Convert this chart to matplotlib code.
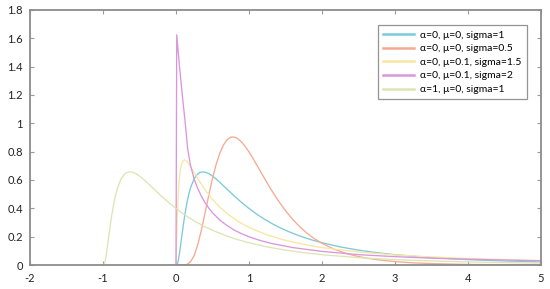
import matplotlib
matplotlib.use("Agg")
import matplotlib.pyplot as plt

plt.rcParams['font.family'] = ['Lato', 'DejaVu Sans']

labels = ["α=0, μ=0, sigma=1", "α=0, μ=0, sigma=0.5", "α=0, μ=0.1, sigma=1.5",
          "α=0, μ=0.1, sigma=2", "α=1, μ=0, sigma=1"]

# series 1: alpha=0, mu=0, sigma=1
x1 = [0.0, 0.02, 0.03, 0.05, 0.08, 0.1, 0.12, 0.15, 0.175, 0.2, 0.25, 0.3, 0.33, 0.37, 0.4,
      0.45, 0.5, 0.55, 0.6, 0.7, 0.8, 0.9, 1.0, 1.1, 1.2, 1.3, 1.4, 1.55, 1.7, 1.85, 2.0,
      2.25, 2.5, 2.75, 3.0, 3.5, 4.0, 4.5, 5.0]
y1 = [0.0, 0.0095, 0.0285, 0.09, 0.2055, 0.282, 0.351, 0.44, 0.499, 0.546, 0.6105, 0.644,
      0.654, 0.657, 0.655, 0.645, 0.628, 0.607, 0.584, 0.535, 0.486, 0.441, 0.399, 0.361,
      0.327, 0.2965, 0.269, 0.234, 0.204, 0.1785, 0.157, 0.1276, 0.105, 0.087, 0.0727,
      0.052, 0.038, 0.0286, 0.0218]

# series 2: alpha=0, mu=0, sigma=0.5
x2 = [0.0, 0.1, 0.15, 0.2, 0.25, 0.3, 0.35, 0.4, 0.45, 0.5, 0.55, 0.6, 0.65, 0.7, 0.75, 0.78,
      0.82, 0.85, 0.9, 0.95, 1.0, 1.05, 1.1, 1.2, 1.3, 1.4, 1.5, 1.6, 1.7, 1.8, 1.9, 2.0, 2.15,
      2.3, 2.45, 2.6, 2.8, 3.0, 3.25, 3.5, 4.0, 5.0]
y2 = [0.0, 0.0, 0.004, 0.023, 0.068, 0.147, 0.252, 0.372, 0.4955, 0.611, 0.710, 0.789, 0.847,
      0.884, 0.9017, 0.904, 0.8995, 0.8906, 0.867, 0.8357, 0.798, 0.7564, 0.712, 0.622, 0.535,
      0.455, 0.383, 0.321, 0.2673, 0.222, 0.1843, 0.153, 0.115, 0.087, 0.0654, 0.049, 0.0342,
      0.024, 0.0152, 0.010, 0.004, 0.001]

# series 3: alpha=0, mu=0.1, sigma=1.5
x3 = [0.0, 0.005, 0.01, 0.02, 0.03, 0.04, 0.05, 0.06, 0.07, 0.08, 0.1, 0.115, 0.13, 0.15,
      0.2, 0.25, 0.3, 0.4, 0.5, 0.6, 0.7, 0.85, 1.0, 1.25, 1.5, 1.75, 2.0, 2.5, 3.0, 3.5,
      4.0, 4.5, 5.0]
y3 = [0.0, 0.082, 0.194, 0.372, 0.492, 0.575, 0.6325, 0.673, 0.700, 0.719, 0.7374, 0.741,
      0.7395, 0.731, 0.695, 0.6514, 0.608, 0.529, 0.463, 0.408, 0.363, 0.308, 0.265, 0.212,
      0.174, 0.145, 0.123, 0.092, 0.071, 0.057, 0.046, 0.038, 0.032]

# series 4: alpha=0, mu=0.1, sigma=2
x4 = [0.0, 0.01, 0.05, 0.09, 0.123, 0.16, 0.2, 0.25, 0.3, 0.35, 0.4, 0.45, 0.5, 0.6, 0.7,
      0.8, 0.9, 1.0, 1.15, 1.3, 1.6, 2.0, 2.5, 3.0, 3.5, 4.0, 4.5, 5.0]
y4 = [0.0, 1.625, 1.39, 1.18, 1.02, 0.82, 0.70, 0.605, 0.538, 0.483, 0.438, 0.401, 0.369,
      0.317, 0.278, 0.246, 0.2205, 0.199, 0.1735, 0.153, 0.123, 0.096, 0.073, 0.059, 0.048,
      0.041, 0.035, 0.030]

# series 5: alpha=1, mu=0, sigma=1
x5 = [-1.0, -0.98, -0.97, -0.95, -0.92, -0.9, -0.88, -0.85, -0.825, -0.8, -0.75, -0.7, -0.67,
      -0.63, -0.6, -0.55, -0.5, -0.45, -0.4, -0.3, -0.2, -0.1, 0.0, 0.1, 0.2, 0.3, 0.4, 0.55,
      0.7, 0.85, 1.0, 1.25, 1.5, 1.75, 2.0, 2.5, 3.0, 3.5, 4.0, 4.5, 5.0]
y5 = [0.0, 0.0095, 0.0285, 0.09, 0.2055, 0.282, 0.351, 0.44, 0.499, 0.546, 0.6105, 0.644,
      0.654, 0.657, 0.655, 0.645, 0.628, 0.607, 0.584, 0.535, 0.486, 0.441, 0.399, 0.361,
      0.327, 0.2965, 0.269, 0.234, 0.204, 0.1785, 0.157, 0.1276, 0.105, 0.087, 0.0727,
      0.052, 0.038, 0.0286, 0.0218, 0.0170, 0.0134]

colors = ["#7ccadb", "#f5ab92", "#f8e6a2", "#da96dd", "#dde5b4"]

xticks = [-2, -1, 0, 1, 2, 3, 4, 5]
yticks = [0, 0.2, 0.4, 0.6, 0.8, 1, 1.2, 1.4, 1.6, 1.8]
ytick_labels = ["0", "0.2", "0.4", "0.6", "0.8", "1", "1.2", "1.4", "1.6", "1.8"]

fig = plt.figure(figsize=(5.5, 2.89), dpi=100)
ax = fig.add_axes([30/550, 1-265/289, (541-30)/550, (265-10)/289])

series = [(x1, y1), (x2, y2), (x3, y3), (x4, y4), (x5, y5)]
for (xs, ys), c, lab in zip(series, colors, labels):
    ax.plot(xs, ys, color=c, lw=0.95, label=lab, solid_joinstyle='round')

ax.set_xlim(-2, 5)
ax.set_ylim(0, 1.8)
ax.set_xticks(xticks)
ax.set_xticklabels([str(t) for t in xticks])
ax.set_yticks(yticks)
ax.set_yticklabels(ytick_labels)

for s in ax.spines.values():
    s.set_color("#8c8c8c")
    s.set_linewidth(1.3)
ax.tick_params(direction='in', length=3, width=0.8, color="#9a9a9a",
               top=True, right=True, labelsize=8, labelcolor="#222222")
ax.tick_params(axis='x', pad=6)
ax.tick_params(axis='y', pad=5)

leg = ax.legend(loc='upper right', bbox_to_anchor=(527/550, 1-25/289),
                bbox_transform=fig.transFigure, borderaxespad=0, fontsize=7.5,
                frameon=True, fancybox=False, handlelength=3.0, handletextpad=0.6,
                labelspacing=0.42, borderpad=0.5)
leg.get_frame().set_edgecolor("#7a7a7a")
leg.get_frame().set_linewidth(0.9)
for lh in leg.get_lines():
    lh.set_linewidth(1.8)

fig.savefig("out.png", dpi=100)
